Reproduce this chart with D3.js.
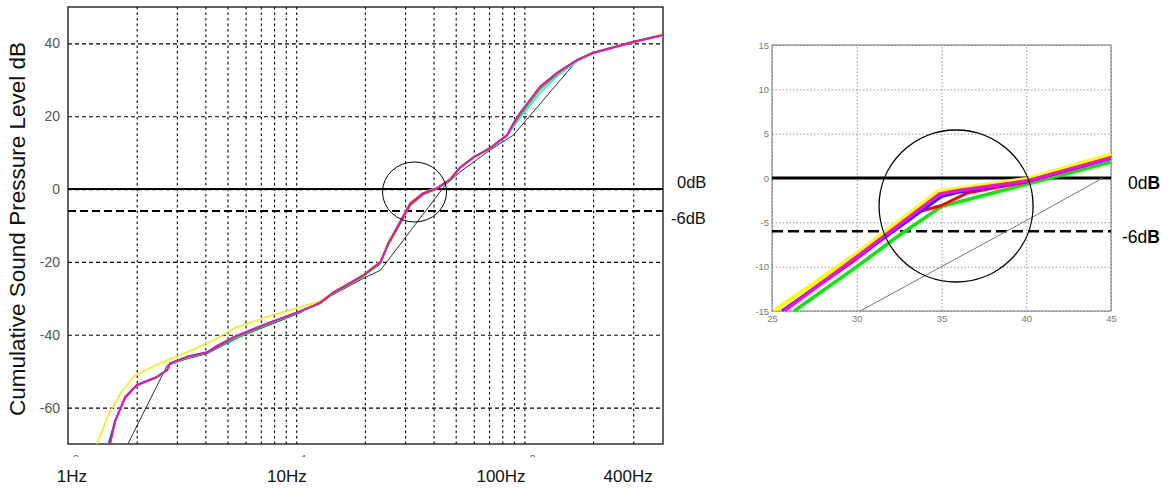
<!DOCTYPE html>
<html>
<head>
<meta charset="utf-8">
<script src="https://cdn.jsdelivr.net/npm/d3@7"></script>
<style>
  html, body { margin: 0; padding: 0; background: #fff; }
  svg { display: block; font-family: "Liberation Sans", Arial, sans-serif; }
</style>
</head>
<body>
<svg id="chart" width="1176" height="489"></svg>
<script>
// ---------------- DATA ----------------
// Left panel: cumulative SPL (dB) versus frequency (Hz), log axis
const leftYTicks = [-60, -40, -20, 0, 20, 40];
const leftGridFreqs = [2, 3, 4, 5, 6, 7, 8, 9, 10, 20, 30, 40, 50, 60, 70, 80, 90, 100, 200, 300];
const leftDecades = [1, 10, 100];
const leftDecadeExp = ["0", "1", "2"];
const leftHzLabels = ["1Hz", "10Hz", "100Hz", "400Hz"];
const leftHzFreqs = [1.04, 9.1, 79, 285];

const leftYellow = [[1.34,-70],[1.5,-62],[1.7,-56],[1.97,-51],[2.4,-48.5],[2.72,-47],[3.5,-44.2],[4.5,-41],[5.3,-38.3],[7.5,-35],[10.4,-32.4],[12.7,-30.8],[14.5,-28.2],[19.7,-23.4],[23.4,-19.7],[25.3,-14.5],[28.5,-8.6],[31.6,-3.6],[36,-0.9],[41.5,0.5],[47,2.7],[52,6],[60,9],[71,11.5],[84,15],[89.5,18.2],[95.8,21],[117,28.1],[139,32],[170,35.5],[200,37.5],[300,40.5],[405,42.4]];
const leftGreen = [[1.5,-70],[1.6,-64],[1.78,-57.5],[2.0,-54],[2.45,-51.8],[2.72,-49.6],[2.8,-48.2],[3.33,-46.3],[4.07,-45],[5.3,-41.3],[7.5,-37.3],[10.4,-33.8],[12.7,-31.5],[14.5,-28.8],[19.7,-24],[23.4,-20.5],[25.3,-15.4],[28.5,-9.6],[31.6,-4.4],[36,-1.4],[41.5,0.1],[47,2.3],[52,5.6],[60,8.6],[71,11.1],[84,14.6],[89.5,17.4],[95.8,20.2],[117,27.3],[139,31.5],[170,35.2],[200,37.3],[300,40.3],[405,42.2]];
const leftCyan = [[1.52,-70],[1.61,-64],[1.78,-57.3],[2.0,-54],[2.45,-51.7],[2.72,-49.7],[2.8,-48],[3.33,-46.1],[4.07,-44.9],[5.3,-40.9],[7.5,-37],[10.4,-33.6],[12.7,-31.4],[14.5,-28.6],[19.7,-23.8],[23.4,-20.2],[25.3,-15.1],[28.5,-9.2],[31.6,-4.1],[36,-1.2],[41.5,0.2],[47,2.4],[52,5.7],[60,8.7],[71,11.2],[84,14.5],[89.5,17],[95.8,19.5],[117,26.4],[139,31],[170,35],[200,37.2],[300,40.3],[405,42.2]];
const leftBlue = [[1.51,-70],[1.61,-63.7],[1.78,-57.1],[2.0,-53.9],[2.45,-51.6],[2.72,-49.7],[2.8,-47.9],[3.33,-46],[4.07,-44.8],[5.3,-40.8],[7.5,-36.9],[10.4,-33.5],[12.7,-31.3],[14.5,-28.5],[19.7,-23.7],[23.4,-20.1],[25.3,-15],[28.5,-9.1],[31.6,-4],[36,-1.1],[41.5,0.3],[47,2.5],[52,5.8],[60,8.8],[71,11.3],[84,14.8],[89.5,18],[95.8,20.9],[117,28],[139,31.9],[170,35.4],[200,37.4],[300,40.4],[405,42.3]];
const leftRed = [[1.53,-70],[1.62,-63.3],[1.79,-57],[2.0,-53.7],[2.45,-51.5],[2.72,-49.6],[2.8,-47.8],[3.33,-46],[4.07,-44.7],[5.3,-40.6],[7.5,-36.8],[10.4,-33.5],[12.7,-31.2],[14.5,-28.4],[19.7,-23.6],[23.4,-20],[25.3,-15.2],[28.5,-9.4],[31.6,-4.4],[36,-1.4],[41.5,0.2],[47,2.5],[52,5.8],[60,8.8],[71,11.4],[84,14.9],[89.5,18.1],[95.8,21],[117,28.2],[139,32],[170,35.5],[200,37.5],[300,40.5],[405,42.4]];
const leftMagenta = [[1.53,-70],[1.61,-63.5],[1.78,-57],[2.0,-53.8],[2.45,-51.6],[2.72,-49.7],[2.8,-47.8],[3.33,-46],[4.07,-44.8],[4.5,-42.9],[5.3,-40.7],[7.5,-36.8],[10.4,-33.5],[12.7,-31.3],[14.5,-28.5],[19.7,-23.6],[23.4,-20],[25.3,-14.9],[28.5,-9],[31.6,-3.9],[36,-1.1],[41.5,0.3],[47,2.5],[52,5.8],[60,8.8],[71,11.3],[84,14.8],[89.5,18],[95.8,20.9],[117,28],[139,31.9],[170,35.4],[200,37.4],[300,40.4],[405,42.3]];
const leftBlack = [[1.83,-70],[2.72,-48.4],[3.33,-46.6],[4.07,-45.2],[5.7,-40.5],[10.4,-34],[14.5,-29],[19.7,-24.5],[23.4,-22.3],[45,1.1],[52,4.6],[71,10.8],[89.5,14.8],[170,35.3],[200,37.2],[300,40.2],[405,42.3]];

// Right panel: zoomed detail, linear axes
const rightXTicks = [25, 30, 35, 40, 45];
const rightYTicks = [-15, -10, -5, 0, 5, 10, 15];
const rightYellow = [[25.1,-15],[30,-8.5],[34.8,-1.5],[40,-0.1],[45,2.7]];
const rightGreen = [[26.3,-15],[30,-10],[32.4,-6.6],[35,-3.2],[37,-2.2],[40,-0.7],[45,1.8]];
const rightBlue = [[25.6,-15],[30,-9.0],[35,-2.1],[36,-1.6],[40,-0.4],[45,2.2]];
const rightRed = [[25.6,-15],[30,-9.1],[33.5,-3.9],[35,-3.1],[36.5,-1.7],[40,-0.45],[45,2.3]];
const rightMagenta = [[25.7,-15],[30,-8.9],[34.9,-1.8],[36,-1.4],[40,-0.35],[45,2.3]];
const rightGray = [[30.2,-15],[35,-10],[40,-4.8],[44.5,0]];

const refLines = [0, -6];
const refLabels = ["0d", "-6d"];
const leftCircle = [33.0, -0.8];
const rightCircle = [35.86, -3.16];

// ---------------- DRAW ----------------
const svg = d3.select("#chart");

// ---- Left panel ----
const xL = d3.scaleLog().domain([1, 405]).range([68, 663]);
const yL = d3.scaleLinear().domain([-70, 50]).range([444, 7]);
const wL = 663 - 68, hL = 444 - 7;

const defs = svg.append("defs");
defs.append("clipPath").attr("id", "clipL").append("rect")
  .attr("x", 68).attr("y", 7).attr("width", wL).attr("height", hL);
defs.append("clipPath").attr("id", "clipR").append("rect")
  .attr("x", 772).attr("y", 45).attr("width", 339).attr("height", 266);
defs.append("clipPath").attr("id", "clipSup").append("rect")
  .attr("x", 0).attr("y", 448).attr("width", 700).attr("height", 9);

// horizontal grid + y tick labels
const gy = svg.append("g").attr("transform", "translate(68,0)")
  .call(d3.axisLeft(yL).tickValues(leftYTicks).tickSize(-wL).tickPadding(8).tickFormat(d => d));
gy.select(".domain").remove();
gy.selectAll(".tick line").attr("stroke", "#000").attr("stroke-width", 1.1).attr("stroke-dasharray", "4,3");
gy.selectAll(".tick text").attr("fill", "#555").attr("font-size", 14)
  .attr("font-family", "Liberation Sans, Arial, sans-serif");

// vertical grid
const gx = svg.append("g").attr("transform", "translate(0,444)")
  .call(d3.axisBottom(xL).tickValues(leftGridFreqs).tickSize(-hL).tickFormat(""));
gx.select(".domain").remove();
gx.selectAll(".tick line").attr("stroke", "#000").attr("stroke-width", 1.1).attr("stroke-dasharray", "2.5,3");

// decade superscript fragments (partly hidden)
svg.append("g").attr("clip-path", "url(#clipSup)")
  .selectAll("text").data(leftDecades).join("text")
  .attr("x", d => xL(d) + 5).attr("y", 463)
  .attr("font-size", 11).attr("fill", "#666")
  .text((d, i) => leftDecadeExp[i]);

// frame
svg.append("rect").attr("x", 68).attr("y", 7).attr("width", wL).attr("height", hL)
  .attr("fill", "none").attr("stroke", "#111").attr("stroke-width", 1.3);

// reference lines
svg.append("line").attr("x1", 68).attr("x2", 663).attr("y1", yL(0)).attr("y2", yL(0))
  .attr("stroke", "#000").attr("stroke-width", 2);
svg.append("line").attr("x1", 68).attr("x2", 663).attr("y1", yL(-6)).attr("y2", yL(-6))
  .attr("stroke", "#000").attr("stroke-width", 2).attr("stroke-dasharray", "8,4");

const lineL = d3.line().x(d => xL(d[0])).y(d => yL(d[1]));
const leftSeries = [
  [leftBlack, "#333", 1],
  [leftYellow, "#f2f200", 1.5],
  [leftGreen, "#00e000", 1.5],
  [leftCyan, "#33e0e0", 1.5],
  [leftBlue, "#2040ff", 1.5],
  [leftRed, "#ff2020", 1.5],
  [leftMagenta, "#ff00e0", 1.5]
];
svg.append("g").attr("clip-path", "url(#clipL)")
  .selectAll("path").data(leftSeries).join("path")
  .attr("d", d => lineL(d[0])).attr("fill", "none")
  .attr("stroke", d => d[1]).attr("stroke-width", d => d[2])
  .attr("stroke-linejoin", "round");

svg.append("ellipse").attr("cx", xL(leftCircle[0])).attr("cy", yL(leftCircle[1]))
  .attr("rx", 32).attr("ry", 30).attr("fill", "none").attr("stroke", "#000").attr("stroke-width", 1);

// labels
svg.append("text").attr("transform", "translate(25,229) rotate(-90)")
  .attr("text-anchor", "middle").attr("font-size", 22.5).attr("fill", "#111")
  .text("Cumulative Sound Pressure Level dB");

svg.append("g").selectAll("text").data(leftHzLabels).join("text")
  .attr("x", (d, i) => xL(leftHzFreqs[i])).attr("y", 482)
  .attr("text-anchor", "middle")
  .attr("font-size", 17).attr("fill", "#111")
  .text(d => d);

svg.append("g").selectAll("text").data(refLines).join("text")
  .attr("x", (d, i) => i === 0 ? 677 : 671).attr("y", (d, i) => yL(d) + (i === 0 ? -1 : 13))
  .attr("font-size", 16.5).attr("fill", "#111")
  .text((d, i) => refLabels[i] + "B");

// ---- Right panel ----
const xR = d3.scaleLinear().domain([25, 45]).range([772, 1111]);
const yR = d3.scaleLinear().domain([-15, 15]).range([311, 45]);

const gyR = svg.append("g").attr("transform", "translate(772,0)")
  .call(d3.axisLeft(yR).tickValues(rightYTicks).tickSize(-339).tickPadding(3).tickFormat(d => d));
gyR.select(".domain").remove();
gyR.selectAll(".tick line").attr("stroke", "#999").attr("stroke-width", 1).attr("stroke-dasharray", "1.5,2");
gyR.selectAll(".tick text").attr("fill", "#777").attr("font-size", 9.5)
  .attr("font-family", "Liberation Sans, Arial, sans-serif");

const gxR = svg.append("g").attr("transform", "translate(0,311)")
  .call(d3.axisBottom(xR).tickValues(rightXTicks).tickSize(-266).tickPadding(4).tickFormat(d => d));
gxR.select(".domain").remove();
gxR.selectAll(".tick line").attr("stroke", "#999").attr("stroke-width", 1).attr("stroke-dasharray", "1.5,2");
gxR.selectAll(".tick text").attr("fill", "#777").attr("font-size", 9.5)
  .attr("font-family", "Liberation Sans, Arial, sans-serif");

svg.append("rect").attr("x", 772).attr("y", 45).attr("width", 339).attr("height", 266)
  .attr("fill", "none").attr("stroke", "#777").attr("stroke-width", 1);

svg.append("line").attr("x1", 772).attr("x2", 1111).attr("y1", yR(0)).attr("y2", yR(0))
  .attr("stroke", "#000").attr("stroke-width", 3);
svg.append("line").attr("x1", 772).attr("x2", 1111).attr("y1", yR(-6)).attr("y2", yR(-6))
  .attr("stroke", "#000").attr("stroke-width", 2.5).attr("stroke-dasharray", "11,5");

const lineR = d3.line().x(d => xR(d[0])).y(d => yR(d[1]));
const rightSeries = [
  [rightGray, "#777", 1],
  [rightGreen, "#00ee00", 3.5],
  [rightYellow, "#ffff00", 4],
  [rightRed, "#ff0000", 3],
  [rightBlue, "#2020ff", 3],
  [rightMagenta, "#ff00ff", 3.5]
];
svg.append("g").attr("clip-path", "url(#clipR)")
  .selectAll("path").data(rightSeries).join("path")
  .attr("d", d => lineR(d[0])).attr("fill", "none")
  .attr("stroke", d => d[1]).attr("stroke-width", d => d[2])
  .attr("stroke-linejoin", "round");

svg.append("ellipse").attr("cx", xR(rightCircle[0])).attr("cy", yR(rightCircle[1]))
  .attr("rx", 77).attr("ry", 76).attr("fill", "none").attr("stroke", "#000").attr("stroke-width", 1.3);

const rl = svg.append("g").selectAll("text").data(refLines).join("text")
  .attr("x", (d, i) => i === 0 ? 1128 : 1122).attr("y", (d, i) => yR(d) + (i === 0 ? 11 : 12))
  .attr("font-size", 17.5).attr("fill", "#000");
rl.append("tspan").text((d, i) => refLabels[i]);
rl.append("tspan").attr("font-weight", "bold").text("B");
</script>
</body>
</html>
